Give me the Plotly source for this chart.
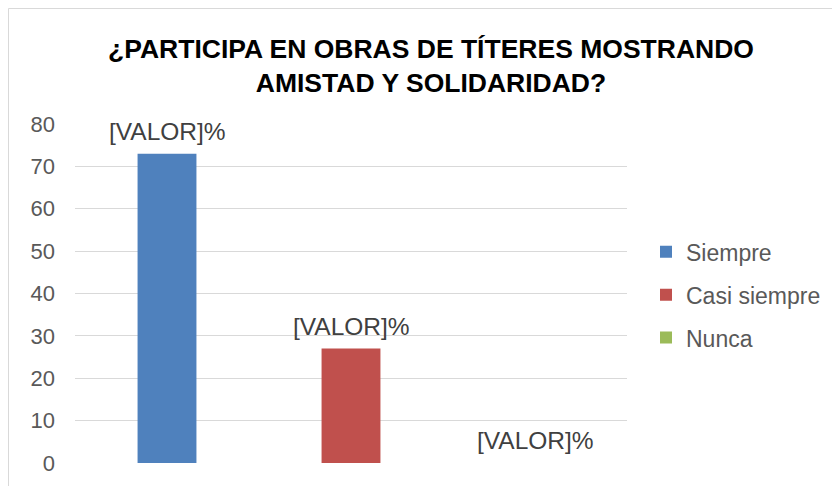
import plotly.graph_objects as go

categories = ["Siempre", "Casi siempre", "Nunca"]
values = [73, 27, 0]
labels = ["[VALOR]%", "[VALOR]%", "[VALOR]%"]
colors = ["#4F81BD", "#C0504D", "#9BBB59"]
y_ticks = [0, 10, 20, 30, 40, 50, 60, 70, 80]
title_text = "¿PARTICIPA EN OBRAS DE TÍTERES MOSTRANDO<br>AMISTAD Y SOLIDARIDAD?"

FONT = "Liberation Sans, Arial, sans-serif"

W, H = 840, 486
ML, MR, MT, MB = 67, 221, 116, 31
PW = W - ML - MR
PH = H - MT - MB

fig = go.Figure()
for i, (cat, val, col) in enumerate(zip(categories, values, colors)):
    fig.add_trace(go.Bar(
        x=[cat], y=[val], name=cat, marker=dict(color=col, line=dict(width=0)),
        legendgroup=cat, hoverinfo="skip",
    ))
    fig.add_annotation(
        x=cat, y=val, xref="x", yref="y", text=labels[i], showarrow=False,
        yanchor="bottom", yshift=7, font=dict(family=FONT, size=24.5, color="#404040"),
    )

# chart-area border (light gray) along the figure's left/top edges
fig.add_shape(type="rect", xref="paper", yref="paper",
              x0=-(ML - 0.5) / PW, x1=1.5, y0=-0.3, y1=1 + (MT - 0.5) / PH,
              line=dict(color="#D9D9D9", width=1), fillcolor="rgba(0,0,0,0)", layer="below")

fig.update_layout(
    width=W, height=H,
    margin=dict(l=ML, r=MR, t=MT, b=MB),
    paper_bgcolor="white", plot_bgcolor="white",
    barmode="overlay", bargap=0.68,
    font=dict(family=FONT, size=22, color="#595959"),
    title=dict(text=title_text, x=423 / W, xanchor="center", xref="container",
               y=1 - 50 / H, yanchor="middle", yref="container",
               font=dict(family=FONT, size=26.5, color="#000000", weight="bold")),
    xaxis=dict(type="category", showticklabels=False, showgrid=False, zeroline=False,
               showline=False, ticks="", categoryorder="array", categoryarray=categories),
    yaxis=dict(range=[0, 80], tickvals=y_ticks, showgrid=True, gridcolor="#D9D9D9",
               gridwidth=1, zeroline=False, showline=False, ticks="",
               tickfont=dict(family=FONT, size=22, color="#595959"), ticklabelstandoff=19),
    legend=dict(x=(638 - ML) / PW, xanchor="left", y=0.496, yanchor="middle",
                font=dict(family=FONT, size=23, color="#595959"),
                traceorder="grouped", tracegroupgap=10, itemwidth=30,
                bgcolor="rgba(0,0,0,0)"),
    showlegend=True,
)

fig.write_html("out.html")
